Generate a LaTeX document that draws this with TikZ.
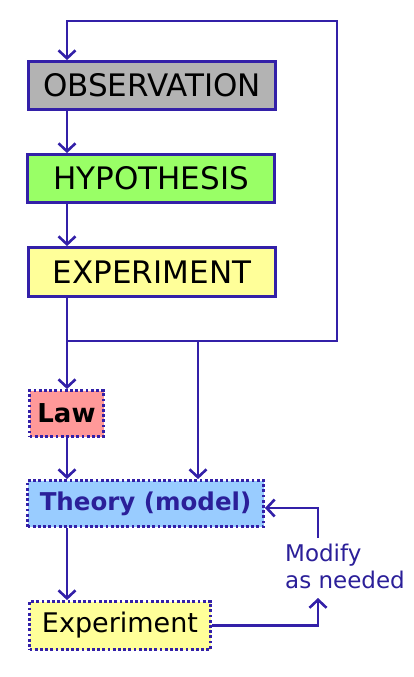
\documentclass[tikz,border=0pt]{standalone}
\usepackage{fontspec}
\setmainfont{DejaVu Sans}
\usetikzlibrary{arrows.meta}
\definecolor{ln}{HTML}{3320A8}
\definecolor{txtblue}{HTML}{2B1F99}
\definecolor{grayfill}{HTML}{B3B3B3}
\definecolor{greenfill}{HTML}{99FF66}
\definecolor{yellowfill}{HTML}{FFFF99}
\definecolor{pinkfill}{HTML}{FF9999}
\definecolor{bluefill}{HTML}{99CCFF}
\tikzset{
  solidbox/.style={draw=ln, line width=2.8pt, inner sep=0pt, font=\fontsize{31}{34}\selectfont},
  dotbox/.style={draw=ln, line width=2.8pt, dash pattern=on 2.8pt off 2.4pt, inner sep=0pt},
  conn/.style={draw=ln, line width=2.8pt},
  arr/.style={conn, -{Straight Barb[length=8pt,width=17pt,line width=2.6pt]}},
}
\begin{document}
\begin{tikzpicture}[x=1pt,y=-1pt]
\useasboundingbox (0,0) rectangle (414,677);
\node[solidbox, fill=grayfill, minimum width=247pt, minimum height=48pt] (obs) at (152,85.5) {OBSERVATION};
\node[solidbox, fill=greenfill, minimum width=247pt, minimum height=48pt] (hyp) at (151,178.5) {HYPOTHESIS};
\node[solidbox, fill=yellowfill, minimum width=247pt, minimum height=49pt] (exp) at (152,272) {EXPERIMENT};
\node[dotbox, fill=pinkfill, minimum width=74pt, minimum height=46pt, font=\fontsize{26}{28}\selectfont\bfseries] (law) at (66.5,413.5) {Law};
\node[dotbox, fill=bluefill, minimum width=236pt, minimum height=46pt, text=txtblue, font=\fontsize{24.5}{28}\selectfont\bfseries] (theory) at (145.5,503.5) {Theory (model)};
\node[dotbox, fill=yellowfill, minimum width=181pt, minimum height=48pt, font=\fontsize{27}{30}\selectfont] (exp2) at (120,625.5) {Experiment};
\node[text=txtblue, align=left, inner sep=0pt, font=\fontsize{23}{27}\selectfont] (mod) at (345,566) {Modify\\as needed};
\coordinate (tl) at (67,21);
\coordinate (tr) at (337,21);
\coordinate (j) at (67,341);
\coordinate (jr) at (337,341);
\coordinate (jm) at (198,341);
\coordinate (m1) at (318,538);
\coordinate (m2) at (318,508);
\coordinate (m3) at (318,625.5);
\coordinate (m4) at (318,598);
\draw[arr] (j) -- (jr) -- (tr) -- (tl) -- (tl |- obs.north);
\draw[arr] (tl |- obs.south) -- (tl |- hyp.north);
\draw[arr] (tl |- hyp.south) -- (tl |- exp.north);
\draw[conn] (tl |- exp.south) -- (j);
\draw[arr] (j) -- (j |- law.north);
\draw[arr] (jm) -- (jm |- theory.north);
\draw[arr] (j |- law.south) -- (j |- theory.north);
\draw[arr] (j |- theory.south) -- (j |- exp2.north);
\draw[arr] (exp2.east) -- (m3) -- (m4);
\draw[arr] (m1) -- (m2) -- (m2 -| theory.east);
\end{tikzpicture}
\end{document}
